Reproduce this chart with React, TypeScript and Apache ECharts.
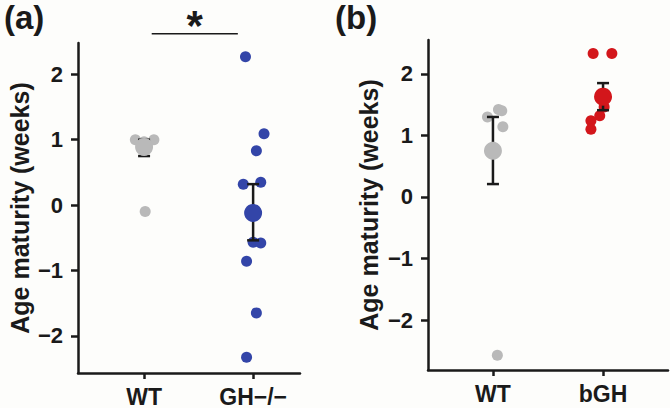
import React, { useEffect, useRef } from "react";
import * as echarts from "echarts";

// ---- data ----
const categoriesA = ["WT", "GH\u2212/\u2212"];
const categoriesB = ["WT", "bGH"];
const yTicks = [-2, -1, 0, 1, 2];

// panel (a): individual animals [x position (1 = WT, 2 = GH-/-), age maturity]
const aWT: number[][] = [
  [0.92, 1.0],
  [1.0, 0.97],
  [1.09, 1.0],
  [1.01, -0.1],
];
const aGH: number[][] = [
  [1.93, 2.27],
  [2.1, 1.09],
  [2.03, 0.83],
  [2.07, 0.35],
  [1.91, 0.32],
  [2.0, -0.57],
  [2.07, -0.58],
  [1.94, -0.86],
  [2.03, -1.65],
  [1.94, -2.33],
];
const aMeanWT = [1, 0.89];
const aMeanGH = [2, -0.12];
// [x, low, high]
const aErrWT = [1, 0.75, 1.0];
const aErrGH = [2, -0.54, 0.32];
// significance bracket [x1, x2, y]
const aSig = [1.07, 1.86, 2.62];

// panel (b)
const bWT: number[][] = [
  [0.95, 1.3],
  [1.05, 1.42],
  [1.08, 1.4],
  [1.09, 1.14],
  [1.04, -2.57],
];
const bGH: number[][] = [
  [1.91, 2.33],
  [2.08, 2.33],
  [2.01, 1.46],
  [1.97, 1.32],
  [1.89, 1.24],
  [1.89, 1.1],
];
const bMeanWT = [1, 0.75];
const bMeanGH = [2, 1.63];
const bErrWT = [1, 0.21, 1.3];
const bErrGH = [2, 1.41, 1.85];

const GRAY = "#b9b9b9";
const BLUE = "#3345a8";
const RED = "#d3161b";
const INK = "#1a1a1a";
const FONT = "Liberation Sans, Arial, sans-serif";

function errRender(params: any, api: any) {
  const x = api.value(0);
  const lo = api.coord([x, api.value(1)]);
  const hi = api.coord([x, api.value(2)]);
  const w = 6;
  const style = { stroke: INK, lineWidth: 2.5 };
  return {
    type: "group",
    children: [
      { type: "line", shape: { x1: lo[0], y1: lo[1], x2: hi[0], y2: hi[1] }, style },
      { type: "line", shape: { x1: lo[0] - w, y1: lo[1], x2: lo[0] + w, y2: lo[1] }, style },
      { type: "line", shape: { x1: hi[0] - w, y1: hi[1], x2: hi[0] + w, y2: hi[1] }, style },
    ],
  };
}

function sigRender(params: any, api: any) {
  const p1 = api.coord([api.value(0), api.value(2)]);
  const p2 = api.coord([api.value(1), api.value(2)]);
  return {
    type: "group",
    children: [
      { type: "line", shape: { x1: p1[0], y1: p1[1], x2: p2[0], y2: p2[1] }, style: { stroke: INK, lineWidth: 1.5 } },
      {
        type: "text",
        x: (p1[0] + p2[0]) / 2,
        y: p1[1] + 13,
        style: {
          text: "*",
          fill: INK,
          font: `bold 42px ${FONT}`,
          align: "center",
          verticalAlign: "bottom",
        },
      },
    ],
  };
}

function yAxisDef(gridIndex: number, min: number, max: number, nameGap: number) {
  return {
    type: "value",
    gridIndex,
    min,
    max,
    name: "Age maturity (weeks)",
    nameLocation: "middle",
    nameGap,
    nameTextStyle: { fontFamily: FONT, fontWeight: "bold", fontSize: 25, color: INK },
    splitLine: { show: false },
    axisLine: { show: true, lineStyle: { color: INK, width: 2.5 } },
    axisTick: { show: true, length: 7, lineStyle: { color: INK, width: 2.5 }, customValues: yTicks },
    axisLabel: {
      customValues: yTicks,
      margin: 15,
      fontFamily: FONT,
      fontWeight: "bold",
      fontSize: 22,
      color: INK,
      formatter: (v: number) => String(v).replace("-", "\u2212"),
    },
  };
}

function xAxisDef(gridIndex: number, min: number, max: number, cats: string[]) {
  return {
    type: "value",
    gridIndex,
    min,
    max,
    splitLine: { show: false },
    axisLine: { show: true, onZero: false, lineStyle: { color: INK, width: 2.5 } },
    axisTick: { show: true, length: 6, lineStyle: { color: INK, width: 2.5 }, customValues: [1, 2] },
    axisLabel: {
      customValues: [1, 2],
      margin: 12,
      fontFamily: FONT,
      fontWeight: "bold",
      fontSize: 23,
      color: INK,
      formatter: (v: number) => cats[Math.round(v) - 1] ?? "",
    },
  };
}

export default function App() {
  const ref = useRef<HTMLDivElement>(null);
  useEffect(() => {
    if (!ref.current) return;
    const chart = echarts.init(ref.current, undefined, { renderer: "svg" });
    const pts = (xi: number, data: number[][], color: string) => ({
      type: "scatter",
      xAxisIndex: xi,
      yAxisIndex: xi,
      data,
      symbolSize: 11,
      itemStyle: { color, opacity: 1 },
      z: 2,
    });
    const mean = (xi: number, d: number[], color: string) => ({
      type: "scatter",
      xAxisIndex: xi,
      yAxisIndex: xi,
      data: [d],
      symbolSize: 18,
      itemStyle: { color, opacity: 1 },
      z: 4,
    });
    const err = (xi: number, d: number[]) => ({
      type: "custom",
      xAxisIndex: xi,
      yAxisIndex: xi,
      data: [d],
      renderItem: errRender,
      encode: { x: 0, y: [1, 2] },
      z: 3,
    });
    chart.setOption({
      animation: false,
      backgroundColor: "#fdfdfb",
      grid: [
        { left: 78, top: 43, width: 222, height: 330 },
        { left: 428, top: 40, width: 240, height: 330 },
      ],
      xAxis: [xAxisDef(0, 0.394, 2.43, categoriesA), xAxisDef(1, 0.41, 2.59, categoriesB)],
      yAxis: [yAxisDef(0, -2.57, 2.48, 46), yAxisDef(1, -2.81, 2.55, 47)],
      graphic: [
        { type: "text", left: 4, top: 1, style: { text: "(a)", font: `bold 33px ${FONT}`, fill: INK } },
        { type: "text", left: 335, top: 1, style: { text: "(b)", font: `bold 33px ${FONT}`, fill: INK } },
      ],
      series: [
        pts(0, aWT, GRAY),
        pts(0, aGH, BLUE),
        err(0, aErrWT),
        err(0, aErrGH),
        mean(0, aMeanWT, GRAY),
        mean(0, aMeanGH, BLUE),
        {
          type: "custom",
          xAxisIndex: 0,
          yAxisIndex: 0,
          data: [aSig],
          renderItem: sigRender,
          encode: { x: [0, 1], y: 2 },
          clip: false,
          z: 5,
        },
        pts(1, bWT, GRAY),
        pts(1, bGH, RED),
        err(1, bErrWT),
        err(1, bErrGH),
        mean(1, bMeanWT, GRAY),
        mean(1, bMeanGH, RED),
      ],
    });
    return () => chart.dispose();
  }, []);
  return (
    <div
      ref={ref}
      style={{ position: "absolute", left: 0, top: 0, width: 670, height: 408 }}
    />
  );
}
